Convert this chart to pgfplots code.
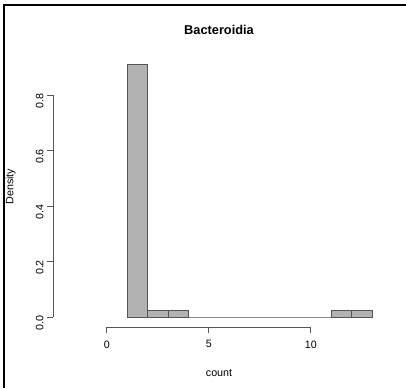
\documentclass[border=0pt]{standalone}
\usepackage{pgfplots}
\pgfplotsset{compat=1.18}
\usepackage{fontspec}
\setmainfont{Liberation Sans}
\definecolor{barfill}{RGB}{178,178,178}
\definecolor{edge}{RGB}{85,85,85}
\begin{document}
\begin{tikzpicture}[x=1pt,y=1pt]
\useasboundingbox (0,0) rectangle (406,388);
\fill[white] (0,0) rectangle (406,388);
% histogram bars
\begin{axis}[
  at={(106.8pt,71pt)}, anchor=south west,
  x=20.4pt, y=277.5pt,
  xmin=0, xmax=14, ymin=0, ymax=0.95,
  hide axis, clip=false,
]
\addplot[ybar interval, fill=barfill, draw=edge, line width=0.8pt] coordinates {
 (1,0.909091) (2,0.022727) (3,0.022727) (4,0) (5,0) (6,0) (7,0) (8,0) (9,0) (10,0)
 (11,0.022727) (12,0.022727) (13,0.022727)
};
\end{axis}
% x axis (R style, detached)
\begin{axis}[
  at={(106.8pt,61pt)}, anchor=south west,
  x=20.4pt, y=1pt,
  xmin=0, xmax=10, ymin=0, ymax=1,
  axis x line=bottom, axis y line=none,
  axis line style={draw=edge, line width=0.8pt, -},
  xtick={0,5,10}, tick align=outside, major tick length=6pt,
  tick style={draw=edge, line width=0.8pt},
  /pgf/number format/assume math mode=true,
  xticklabel style={font=\fontsize{10.7}{12}\selectfont, yshift=-4pt},
]
\addplot[draw=none] coordinates {(0,0)};
\end{axis}
% y axis (R style, detached)
\begin{axis}[
  at={(53pt,71pt)}, anchor=south west,
  x=1pt, y=277.5pt,
  xmin=0, xmax=1, ymin=0, ymax=0.8,
  axis y line=left, axis x line=none,
  axis line style={draw=edge, line width=0.8pt, -},
  ytick={0,0.2,0.4,0.6,0.8}, tick align=outside, major tick length=6pt,
  tick style={draw=edge, line width=0.8pt},
  /pgf/number format/assume math mode=true,
  yticklabel={\pgfmathprintnumber[fixed,fixed zerofill,precision=1]{\tick}},
  yticklabel style={font=\fontsize{10.7}{12}\selectfont, rotate=90, anchor=south, xshift=-6pt},
]
\addplot[draw=none] coordinates {(0,0)};
\end{axis}
% titles and labels
\node[font=\bfseries\fontsize{12.8}{14}\selectfont] at (219,358) {Bacteroidia};
\node[font=\fontsize{10.7}{12}\selectfont] at (219,15.3) {count};
\node[font=\fontsize{10.7}{12}\selectfont, rotate=90] at (10.5,201.3) {Density};
% screenshot frame
\draw[line width=2pt, black] (4,0) -- (4,383) -- (406,383);
\end{tikzpicture}
\end{document}
